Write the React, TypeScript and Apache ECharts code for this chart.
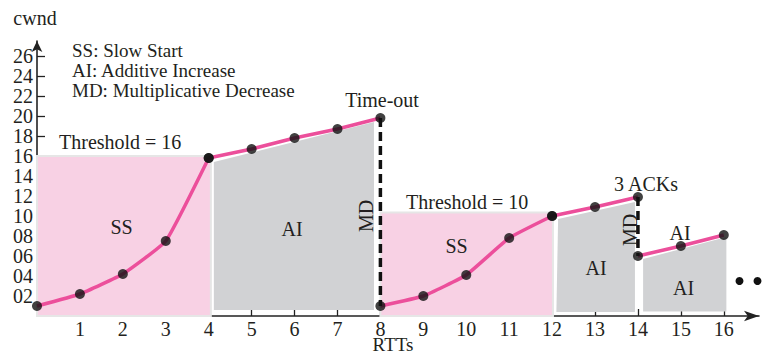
import React, { useEffect, useRef } from 'react';
import * as echarts from 'echarts';

// ---- data ----
const ssRound1X = [0, 1, 2, 3, 4];
const ssRound1Y = [1, 2.2, 4.2, 7.5, 15.8];
const aiRound1X = [4, 5, 6, 7, 8];
const aiRound1Y = [15.8, 16.7, 17.8, 18.7, 19.8];
const ssRound2X = [8, 9, 10, 11, 12];
const ssRound2Y = [1, 2, 4.1, 7.8, 10];
const aiRound2X = [12, 13, 14];
const aiRound2Y = [10, 10.9, 11.9];
const aiRound3X = [14, 15, 16];
const aiRound3Y = [6, 7, 8.1];
const timeoutDrop: number[][] = [[8, 19.8], [8, 1]];
const ackDrop: number[][] = [[14, 11.9], [14, 6]];
const xTickValues = [1, 2, 3, 4, 5, 6, 7, 8, 9, 10, 11, 12, 13, 14, 15, 16];
const yTickValues = [2, 4, 6, 8, 10, 12, 14, 16, 18, 20, 22, 24, 26];
// shaded phases (data coordinates)
const ssRegions: number[][][] = [
  [[0, 0], [0, 16], [4.05, 16], [4.05, 0]],
  [[8, 0], [8, 10.35], [12.02, 10.35], [12.02, 0]],
];
const aiRegions: number[][][] = [
  [[4.12, 0.6], [4.12, 15.4], [7.85, 19.4], [7.85, 0.6]],
  [[12.1, 0.4], [12.14, 9.7], [13.93, 11.4], [13.93, 0.4]],
  [[14.12, 0.45], [14.12, 5.7], [16.06, 7.9], [16.06, 0.45]],
];

const zip = (xs: number[], ys: number[]) => xs.map((x, i) => [x, ys[i]]);

const FONT = '"Liberation Serif", "Times New Roman", serif';
const TEXT = '#231f20';
const PINK_LINE = '#ec4f9b';
const PINK_FILL = '#f8d1e4';
const GRAY_FILL = '#d1d2d4';

function regionSeries(regions: number[][][], fill: string, stroke: string, z: number) {
  return {
    type: 'custom',
    coordinateSystem: 'cartesian2d',
    silent: true,
    clip: false,
    z,
    data: regions.map((r) => [r[1][0], r[1][1]]),
    renderItem: (params: any, api: any) => {
      const r = regions[params.dataIndex];
      return {
        type: 'polygon',
        shape: { points: r.map((p) => api.coord(p)) },
        style: { fill, stroke, lineWidth: stroke === 'none' ? 0 : 2 },
      };
    },
  };
}

function label(
  text: string,
  x: number,
  y: number,
  align = 'center',
  rotation = 0,
  fontSize = 20,
  lineHeight = 17,
) {
  return {
    type: 'text',
    x,
    y,
    rotation,
    silent: true,
    z: 100,
    style: {
      text,
      fontFamily: FONT,
      fontSize,
      lineHeight,
      fill: TEXT,
      align,
      verticalAlign: 'middle',
      textAlign: align,
      textVerticalAlign: 'middle',
    },
  };
}

export default function App() {
  const ref = useRef<HTMLDivElement>(null);
  useEffect(() => {
    if (!ref.current) return;
    const chart = echarts.init(ref.current, null, { renderer: 'svg' });
    const lineSeries = (data: number[][], smooth: number) => ({
      type: 'line',
      data,
      smooth,
      symbol: 'none',
      z: 5,
      lineStyle: { color: PINK_LINE, width: 3.5 },
      silent: true,
    });
    const dropSeries = (data: number[][]) => ({
      type: 'line',
      data,
      symbol: 'none',
      z: 6,
      lineStyle: { color: '#111', width: 3.5, type: [9, 5] },
      silent: true,
    });
    const allPoints = [
      ...zip(ssRound1X, ssRound1Y),
      ...zip(aiRound1X, aiRound1Y),
      ...zip(ssRound2X, ssRound2Y),
      ...zip(aiRound2X, aiRound2Y),
      ...zip(aiRound3X, aiRound3Y),
    ];
    chart.setOption({
      animation: false,
      backgroundColor: '#fff',
      grid: { left: 37, right: 8, top: 41, bottom: 36, containLabel: false, outerBoundsMode: 'none' },
      xAxis: {
        type: 'value',
        min: 0,
        max: 16.82,
        splitLine: { show: false },
        axisLine: {
          show: true,
          onZero: false,
          symbol: ['none', 'arrow'],
          symbolSize: [8, 15],
          lineStyle: { color: '#222', width: 1.6 },
        },
        axisTick: {
          show: true,
          inside: true,
          length: 7,
          customValues: xTickValues,
          lineStyle: { color: '#222', width: 1.3 },
        },
        axisLabel: {
          customValues: xTickValues,
          fontFamily: FONT,
          fontSize: 20,
          lineHeight: 17,
          color: TEXT,
          margin: 4,
        },
      },
      yAxis: {
        type: 'value',
        min: 0,
        max: 27.5,
        splitLine: { show: false },
        axisLine: {
          show: true,
          onZero: false,
          symbol: ['none', 'arrow'],
          symbolSize: [8, 11],
          lineStyle: { color: '#222', width: 1.6 },
        },
        axisTick: {
          show: true,
          inside: true,
          length: 8,
          customValues: yTickValues,
          lineStyle: { color: '#222', width: 1.3 },
        },
        axisLabel: {
          customValues: yTickValues,
          fontFamily: FONT,
          fontSize: 20,
          lineHeight: 17,
          color: TEXT,
          margin: 4,
          formatter: (v: number) => String(v).padStart(2, '0'),
        },
      },
      series: [
        regionSeries(ssRegions, PINK_FILL, '#e6e6e6', 1),
        regionSeries(aiRegions, GRAY_FILL, 'none', 1),
        lineSeries(zip(ssRound1X, ssRound1Y), 0.12),
        lineSeries(zip(aiRound1X, aiRound1Y), 0),
        lineSeries(zip(ssRound2X, ssRound2Y), 0.12),
        lineSeries(zip(aiRound2X, aiRound2Y), 0),
        lineSeries(zip(aiRound3X, aiRound3Y), 0),
        dropSeries(timeoutDrop),
        dropSeries(ackDrop),
        {
          type: 'scatter',
          data: allPoints,
          symbol: 'circle',
          symbolSize: 10,
          z: 10,
          silent: true,
          itemStyle: { color: '#111' },
        },
      ],
      graphic: [
        label('cwnd', 35, 18),
        label('SS: Slow Start', 72, 50.5, 'left', 0, 19, 17),
        label('AI: Additive Increase', 72, 70.5, 'left', 0, 19, 17),
        label('MD: Multiplicative Decrease', 72, 90.5, 'left', 0, 19, 17),
        label('Threshold = 16', 59, 142, 'left'),
        label('Time-out', 382, 100),
        label('Threshold = 10', 406, 202, 'left'),
        label('3 ACKs', 646, 183.5),
        label('SS', 121.5, 227),
        label('AI', 292, 229),
        label('MD', 365.5, 216, 'center', Math.PI / 2),
        label('SS', 456.5, 246),
        label('MD', 630, 230, 'center', Math.PI / 2),
        label('AI', 596, 267.5),
        label('AI', 680, 233),
        label('AI', 683.5, 288),
        label('RTTs', 393, 344, 'center', 0, 19, 14),
        { type: 'circle', shape: { cx: 739.5, cy: 281, r: 4 }, style: { fill: '#111' }, silent: true },
        { type: 'circle', shape: { cx: 757.5, cy: 281, r: 4 }, style: { fill: '#111' }, silent: true },
      ],
    });
    return () => chart.dispose();
  }, []);
  return (
    <div
      ref={ref}
      style={{ position: 'fixed', left: 0, top: 0, width: 767, height: 352, background: '#fff' }}
    />
  );
}
